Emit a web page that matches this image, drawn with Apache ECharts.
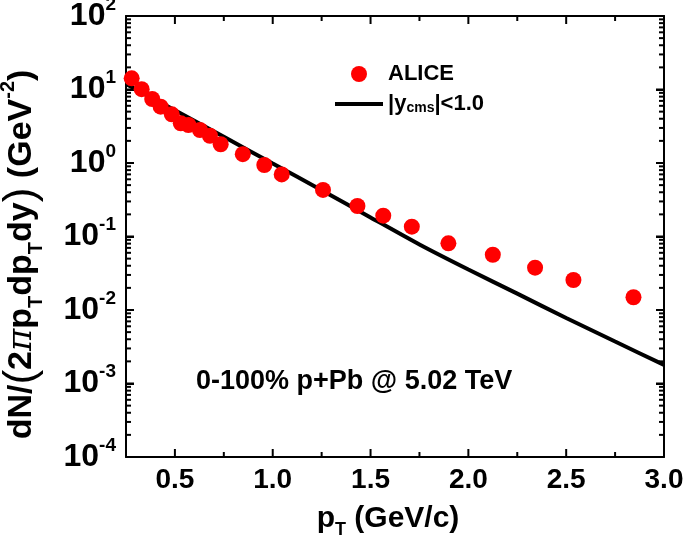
<!DOCTYPE html>
<html><head><meta charset="utf-8">
<script src="https://cdn.jsdelivr.net/npm/echarts@6/dist/echarts.min.js"></script>
<style>html,body{margin:0;padding:0;background:#fff}#c{width:685px;height:554px}</style>
</head><body><div id="c"></div>
<script>
// ALICE data points (pT in GeV/c, yield)
const aliceX = [0.279,0.330,0.384,0.427,0.484,0.530,0.569,0.628,0.679,0.734,0.847,0.957,1.046,1.257,1.433,1.565,1.711,1.898,2.125,2.341,2.537,2.844];
const aliceY = [14.2,10.1,7.43,5.84,4.60,3.47,3.29,2.81,2.35,1.80,1.32,0.94,0.70,0.43,0.26,0.192,0.136,0.0807,0.0565,0.0377,0.0256,0.0149];
// model curve |y_cms|<1.0
const modelX = [0.25,0.5,0.75,1.0,1.25,1.5,1.75,2.0,2.25,2.5,2.75,3.0];
const modelY = [11.9,5.21,2.27,0.984,0.427,0.182,0.0778,0.0355,0.0167,0.00778,0.00372,0.00179];
// axis ticks
const xMajorTicks = [0.5,1.0,1.5,2.0,2.5,3.0];
const xMinorTicks = [0.75,1.25,1.75,2.25,2.75];
const yMajorTicks = [1e-4,1e-3,1e-2,1e-1,1e0,1e1,1e2];
const yMinorMantissas = [2,3,4,5,6,7,8,9];
const yDecades = [-4,-3,-2,-1,0,1];

const FF = '"Liberation Sans", Arial, sans-serif';
const X_MIN = 0.25, X_MAX = 3.0, Y_MIN = 1e-4, Y_MAX = 1e2;

const yMinorTicks = [];
yDecades.forEach(d => yMinorMantissas.forEach(m => yMinorTicks.push(m * Math.pow(10, d))));

// [x, y, side(0 bottom, 1 top, 2 left, 3 right), length]
const tickData = [];
xMajorTicks.forEach(v => { tickData.push([v, Y_MIN, 0, 8]); tickData.push([v, Y_MAX, 1, 8]); });
xMinorTicks.forEach(v => { tickData.push([v, Y_MIN, 0, 5]); tickData.push([v, Y_MAX, 1, 5]); });
yMajorTicks.forEach(v => { tickData.push([X_MIN, v, 2, 8]); tickData.push([X_MAX, v, 3, 8]); });
yMinorTicks.forEach(v => { tickData.push([X_MIN, v, 2, 5]); tickData.push([X_MAX, v, 3, 5]); });

const chart = echarts.init(document.getElementById('c'));

const option = {
  animation: false,
  grid: {left: 126, right: 21, top: 16, bottom: 97, outerBoundsMode: 'none'},
  xAxis: [{
    type: 'value', min: X_MIN, max: X_MAX, interval: 0.25, position: 'bottom',
    splitLine: {show: false},
    axisLine: {show: true, lineStyle: {color: '#000', width: 2}},
    axisTick: {show: false},
    axisLabel: {
      show: true, margin: 9, color: '#000', fontSize: 28, fontWeight: 'bold', fontFamily: FF,
      showMinLabel: false, showMaxLabel: true,
      formatter: v => (Math.abs(v * 2 - Math.round(v * 2)) < 1e-6) ? v.toFixed(1) : ''
    },
    name: 'p{sub|T} (GeV/c)',
    nameLocation: 'middle', nameGap: 19,
    nameTextStyle: {
      color: '#000', fontSize: 30, fontWeight: 'bold', fontFamily: FF, lineHeight: 40,
      padding: [0, 14, 0, 0],
      rich: {sub: {fontSize: 18, fontWeight: 'bold', fontFamily: FF, color: '#000', verticalAlign: 'bottom', lineHeight: 18}}
    }
  }, {
    type: 'value', min: X_MIN, max: X_MAX, interval: 0.25, position: 'top',
    splitLine: {show: false},
    axisLine: {show: true, lineStyle: {color: '#000', width: 2}},
    axisTick: {show: false},
    axisLabel: {show: false}
  }],
  yAxis: [{
    type: 'log', logBase: 10, min: Y_MIN, max: Y_MAX, position: 'left',
    splitLine: {show: false},
    axisLine: {show: true, lineStyle: {color: '#000', width: 2}},
    axisTick: {show: true, inside: true, length: 8, lineStyle: {color: '#000', width: 2}},
    axisLabel: {
      show: true, margin: 10, color: '#000', fontFamily: FF,
      formatter: v => '{b|10}{s|' + Math.round(Math.log10(v)) + '}',
      rich: {
        b: {fontSize: 32, fontWeight: 'bold', fontFamily: FF, color: '#000', lineHeight: 42},
        s: {fontSize: 19, fontWeight: 'bold', fontFamily: FF, color: '#000', lineHeight: 19, verticalAlign: 'top'}
      }
    },
    name: 'dN/{p|(}2{pi|π}p{sub|T}dp{sub|T}dy{p|)} (GeV{sup|-2})',
    nameLocation: 'middle', nameRotate: 90, nameGap: 80,
    nameTextStyle: {
      color: '#000', fontSize: 34, fontWeight: 'bold', fontFamily: FF, lineHeight: 48,
      padding: [0, 36, 0, 0],
      rich: {
        p: {fontSize: 44, fontWeight: 'normal', fontFamily: FF, color: '#000', lineHeight: 48},
        pi: {fontSize: 34, fontStyle: 'italic', fontWeight: 'normal', fontFamily: '"DejaVu Serif", serif', color: '#000', lineHeight: 48},
        sub: {fontSize: 20, fontWeight: 'bold', fontFamily: FF, color: '#000', verticalAlign: 'bottom', lineHeight: 20},
        sup: {fontSize: 20, fontWeight: 'bold', fontFamily: FF, color: '#000', verticalAlign: 'top', lineHeight: 20}
      }
    }
  }, {
    type: 'log', logBase: 10, min: Y_MIN, max: Y_MAX, position: 'right',
    splitLine: {show: false},
    axisLine: {show: true, lineStyle: {color: '#000', width: 2}},
    axisTick: {show: true, inside: true, length: 8, lineStyle: {color: '#000', width: 2}},
    axisLabel: {show: false}
  }],
  legend: {
    orient: 'vertical', left: 330, top: 58, itemGap: 8,
    itemWidth: 48, itemHeight: 16,
    data: [{name: 'ALICE', icon: 'circle'}, {name: 'model', icon: 'path://M0,0 L48,0 L48,4 L0,4 Z'}],
    formatter: n => n === 'ALICE' ? 'ALICE' : '|y{sub|cms}|<1.0',
    textStyle: {
      color: '#000', fontSize: 22, fontWeight: 'bold', fontFamily: FF,
      rich: {sub: {fontSize: 14, fontWeight: 'bold', fontFamily: FF, color: '#000', verticalAlign: 'bottom', lineHeight: 14}}
    }
  },
  graphic: [{
    type: 'text', left: 196, top: 368, z: 10,
    style: {text: '0-100% p+Pb @ 5.02 TeV', fill: '#000', font: 'bold 27px ' + FF}
  }],
  series: [
    {
      type: 'custom', clip: false,
      data: tickData,
      encode: {x: 0, y: 1},
      renderItem: (params, api) => {
        const xv = api.value(0), yv = api.value(1), side = api.value(2), len = api.value(3);
        const p = api.coord([xv, yv]);
        let shape;
        if (side === 0) shape = {x: p[0] - 1, y: p[1] - len, width: 2, height: len};
        else if (side === 1) shape = {x: p[0] - 1, y: p[1], width: 2, height: len};
        else if (side === 2) shape = {x: p[0], y: p[1] - 1, width: len, height: 2};
        else shape = {x: p[0] - len, y: p[1] - 1, width: len, height: 2};
        return {type: 'rect', shape: shape, style: {fill: '#000'}};
      }
    },
    {
      type: 'line', name: 'model', z: 3,
      data: modelX.map((x, i) => [x, modelY[i]]),
      smooth: 0.2, symbol: 'none', showSymbol: false,
      lineStyle: {color: '#000', width: 4}, itemStyle: {color: '#000'}
    },
    {
      type: 'scatter', name: 'ALICE', z: 4,
      data: aliceX.map((x, i) => [x, aliceY[i]]),
      symbol: 'circle', symbolSize: 16,
      itemStyle: {color: '#ff0000', opacity: 1}
    }
  ]
};
chart.setOption(option);
</script></body></html>
